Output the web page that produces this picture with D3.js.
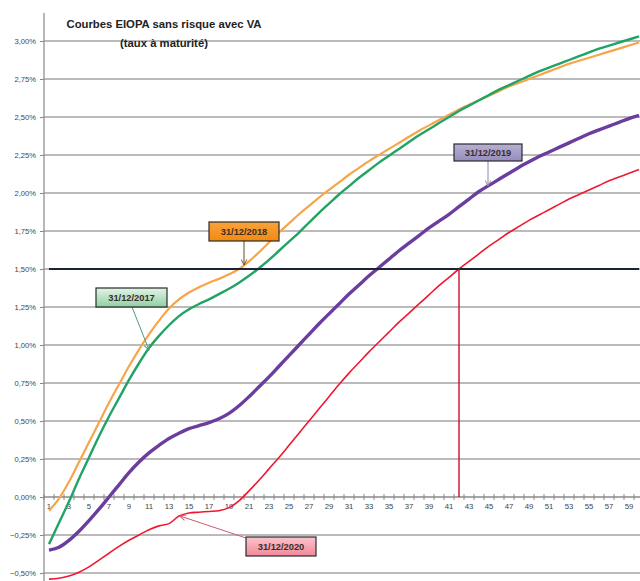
<!DOCTYPE html>
<html>
<head>
<meta charset="utf-8">
<script src="https://cdn.jsdelivr.net/npm/d3@7"></script>
<style>
html,body{margin:0;padding:0;background:#fff;}
svg{display:block;font-family:"Liberation Sans",Arial,sans-serif;}
</style>
</head>
<body>
<svg id="chart" width="640" height="581"></svg>
<script>
// ---- DATA ----
const maturities = d3.range(1, 61);
const curve2017 = [-0.31,-0.17,-0.03,0.12,0.26,0.40,0.53,0.65,0.77,0.88,0.98,1.06,1.13,1.19,1.235,1.27,1.30,1.335,1.37,1.41,1.455,1.505,1.56,1.62,1.68,1.74,1.805,1.87,1.93,1.99,2.045,2.10,2.15,2.20,2.245,2.29,2.335,2.38,2.42,2.46,2.50,2.54,2.575,2.61,2.645,2.68,2.71,2.74,2.77,2.80,2.825,2.85,2.875,2.90,2.925,2.95,2.97,2.99,3.01,3.03];
const curve2018 = [-0.09,-0.01,0.10,0.23,0.36,0.49,0.62,0.74,0.86,0.97,1.07,1.16,1.24,1.30,1.345,1.38,1.41,1.435,1.465,1.50,1.55,1.61,1.675,1.74,1.80,1.86,1.915,1.97,2.02,2.07,2.12,2.165,2.21,2.25,2.29,2.33,2.37,2.41,2.445,2.48,2.515,2.55,2.58,2.61,2.64,2.67,2.70,2.725,2.75,2.775,2.80,2.825,2.85,2.87,2.89,2.91,2.93,2.95,2.97,2.99];
const curve2019 = [-0.35,-0.33,-0.285,-0.225,-0.155,-0.08,0.00,0.08,0.16,0.23,0.29,0.34,0.385,0.42,0.45,0.47,0.49,0.515,0.55,0.60,0.66,0.725,0.79,0.86,0.93,1.00,1.07,1.14,1.205,1.27,1.335,1.395,1.455,1.51,1.565,1.62,1.67,1.72,1.77,1.815,1.86,1.91,1.96,2.01,2.05,2.09,2.13,2.17,2.205,2.24,2.27,2.30,2.33,2.36,2.39,2.415,2.44,2.465,2.49,2.51];
const curve2020 = [-0.54,-0.535,-0.52,-0.495,-0.46,-0.415,-0.37,-0.325,-0.285,-0.25,-0.215,-0.19,-0.175,-0.125,-0.105,-0.10,-0.095,-0.09,-0.07,-0.025,0.04,0.11,0.185,0.26,0.34,0.42,0.50,0.58,0.66,0.74,0.815,0.885,0.955,1.02,1.085,1.15,1.21,1.27,1.33,1.39,1.445,1.50,1.55,1.60,1.65,1.695,1.74,1.78,1.82,1.855,1.89,1.925,1.96,1.99,2.02,2.05,2.08,2.105,2.13,2.155];
const threshold = maturities.map(() => 1.5);
const crossMaturity = [42];
const yTicks = [-0.5,-0.25,0,0.25,0.5,0.75,1,1.25,1.5,1.75,2,2.25,2.5,2.75,3];
const xTickLabels = maturities.filter(m => m % 2 === 1);
const titleLines = ["Courbes EIOPA sans risque avec VA", "(taux à maturité)"];
const seriesNames = ["31/12/2017","31/12/2018","31/12/2019","31/12/2020"];

// ---- CHART ----
const svg = d3.select("#chart");
const W = 640, H = 581;
svg.append("rect").attr("width", W).attr("height", H).attr("fill", "#fff");

const x = d3.scaleBand().domain(maturities).range([44, 644]).paddingInner(0).paddingOuter(0);
const xc = m => x(m) + x.bandwidth() / 2;
const y = d3.scaleLinear().domain([-0.5, 3.0]).range([573, 41]);

const defs = svg.append("defs");
function grad(id, c1, c2) {
  const g = defs.append("linearGradient").attr("id", id).attr("x1", 0).attr("y1", 0).attr("x2", 0).attr("y2", 1);
  g.append("stop").attr("offset", "0%").attr("stop-color", c1);
  g.append("stop").attr("offset", "100%").attr("stop-color", c2);
}
grad("g2017", "#e3f4e6", "#8fd0a2");
grad("g2018", "#f9a23a", "#f38a10");
grad("g2019", "#b7b0d4", "#978cbd");
grad("g2020", "#fbc4cd", "#f1889a");

function marker(id, color) {
  defs.append("marker").attr("id", id).attr("viewBox", "0 0 10 10")
    .attr("refX", 9).attr("refY", 5).attr("markerWidth", 7).attr("markerHeight", 7)
    .attr("orient", "auto").attr("markerUnits", "userSpaceOnUse")
    .append("path").attr("d", "M1,1 L9,5 L1,9").attr("fill", "none")
    .attr("stroke", color).attr("stroke-width", 1.3);
}
marker("m2017", "#4f9a8a");
marker("m2018", "#6b4a2a");
marker("m2019", "#8c88a4");
marker("m2020", "#d05a6e");

// gridlines
svg.append("g").selectAll("line").data(yTicks.filter(v => v !== 0)).join("line")
  .attr("x1", 44).attr("x2", W).attr("y1", d => y(d)).attr("y2", d => y(d))
  .attr("stroke", "#a4a4a4").attr("stroke-width", 1.6);

// y axis
const yAxis = svg.append("g").attr("transform", "translate(44,0)")
  .call(d3.axisLeft(y).tickValues(yTicks).tickSize(4).tickPadding(4)
    .tickFormat(d => d3.format(".2f")(d).replace(".", ",") + "%"));
yAxis.select(".domain").remove();
yAxis.selectAll(".tick line").attr("stroke", "#888");
yAxis.selectAll(".tick text").attr("font-size", "7.6px").attr("fill", "#444");
svg.append("line").attr("x1", 44).attr("x2", 44).attr("y1", 13).attr("y2", H)
  .attr("stroke", "#888").attr("stroke-width", 1.2);

// x axis
const y0 = y(0);
svg.append("line").attr("x1", 44).attr("x2", W).attr("y1", y0).attr("y2", y0)
  .attr("stroke", "#8a8a8a").attr("stroke-width", 1.5);
svg.append("g").selectAll("line").data(d3.range(0, 61)).join("line")
  .attr("x1", k => 44 + k * x.bandwidth()).attr("x2", k => 44 + k * x.bandwidth())
  .attr("y1", y0 - 3).attr("y2", y0 + 3).attr("stroke", "#888").attr("stroke-width", 1);
const xAxis = svg.append("g").attr("transform", `translate(0,${y0})`)
  .call(d3.axisBottom(x).tickValues(xTickLabels).tickSize(0).tickPadding(6));
xAxis.select(".domain").remove();
xAxis.selectAll(".tick text").attr("font-size", "7.8px").attr("fill", "#444");

// curves
const line = d3.line().x((d, i) => xc(maturities[i])).y(d => y(d)).curve(d3.curveCatmullRom.alpha(0.5));
const plot = svg.append("g");
const series = [
  {v: curve2018, c: "#f7a54a", w: 2.2},
  {v: curve2017, c: "#21a366", w: 2.4},
  {v: curve2019, c: "#6a3d9e", w: 3.4},
  {v: curve2020, c: "#f01830", w: 1.6}
];
series.forEach(s => {
  plot.append("path").attr("d", line(s.v)).attr("fill", "none")
    .attr("stroke", s.c).attr("stroke-width", s.w).attr("stroke-linejoin", "round");
});

// threshold line
plot.append("path").attr("d", d3.line().x((d, i) => xc(maturities[i])).y(d => y(d))(threshold))
  .attr("fill", "none").attr("stroke", "#1c2238").attr("stroke-width", 2);

// vertical drop line at crossing
crossMaturity.forEach(m => {
  plot.append("line").attr("x1", xc(m)).attr("x2", xc(m)).attr("y1", y(1.5)).attr("y2", y(0))
    .attr("stroke", "#c8102e").attr("stroke-width", 1.4);
});

// title
const t = svg.append("text").attr("x", 164).attr("text-anchor", "middle")
  .attr("font-size", "11.3px").attr("font-weight", "bold").attr("fill", "#222");
t.append("tspan").attr("x", 164).attr("y", 28).text(titleLines[0]);
t.append("tspan").attr("x", 164).attr("y", 47).text(titleLines[1]);

// annotations
const notes = [
  {name: seriesNames[0], box: [96, 288, 71, 19], fill: "url(#g2017)", from: [132, 307], to: [149, 350], lc: "#4f9a8a", mk: "m2017"},
  {name: seriesNames[1], box: [209, 222, 70, 19], fill: "url(#g2018)", from: [244, 241], to: [244, 265], lc: "#6b4a2a", mk: "m2018"},
  {name: seriesNames[2], box: [454, 144, 68, 17], fill: "url(#g2019)", from: [488, 161], to: [488, 186], lc: "#8c88a4", mk: "m2019"},
  {name: seriesNames[3], box: [246, 537, 70, 19], fill: "url(#g2020)", from: [246, 538], to: [180, 516], lc: "#d05a6e", mk: "m2020"}
];
notes.forEach(n => {
  svg.append("line").attr("x1", n.from[0]).attr("y1", n.from[1]).attr("x2", n.to[0]).attr("y2", n.to[1])
    .attr("stroke", n.lc).attr("stroke-width", 1).attr("marker-end", `url(#${n.mk})`);
  svg.append("rect").attr("x", n.box[0]).attr("y", n.box[1]).attr("width", n.box[2]).attr("height", n.box[3])
    .attr("fill", n.fill).attr("stroke", "#2a2a2a").attr("stroke-width", 1.2);
  svg.append("text").attr("x", n.box[0] + n.box[2] / 2).attr("y", n.box[1] + n.box[3] / 2 + 3.4)
    .attr("text-anchor", "middle").attr("font-size", "9.3px").attr("font-weight", "bold")
    .attr("fill", "#3a2e2a").text(n.name);
});
</script>
</body>
</html>
